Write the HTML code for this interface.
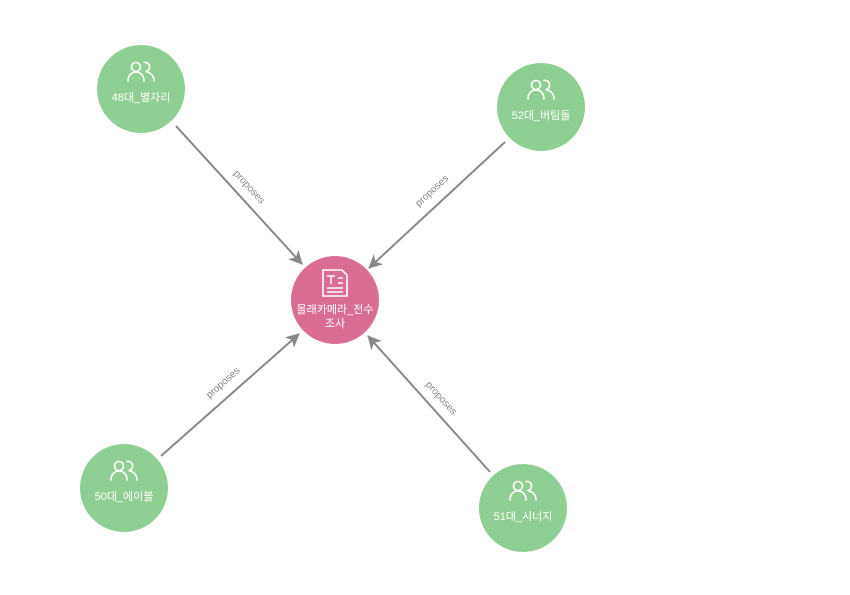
<!DOCTYPE html>
<html><head><meta charset="utf-8"><style>
html,body{margin:0;padding:0;background:#fff;}
svg{display:block;}
text{font-family:"Liberation Sans","Noto Sans CJK KR",sans-serif;}
</style></head><body>
<svg width="850" height="595" viewBox="0 0 850 595">
<defs>
<marker id="a" markerWidth="14" markerHeight="14" refX="13" refY="7" orient="auto" markerUnits="userSpaceOnUse" viewBox="0 0 14 14">
<path d="M0,0 L14,7 L0,14 L4,7 z" fill="#888"/>
</marker>
<g id="ppl" fill="none" stroke="#fff" stroke-width="1.6" stroke-linecap="round">
<circle cx="-5" cy="-5" r="4.5"/>
<path d="M-13,9 C-13,3 -9,0 -5,0 C-1,0 3,3 3,9"/>
<path d="M3,-9.5 A4.5,4.5 0 1 1 5,-0.5"/>
<path d="M6,0 C10,1 13,4 13,9"/>
</g>
</defs>
<g stroke="#888" stroke-width="2" marker-end="url(#a)">
<line x1="176" y1="126" x2="302" y2="264"/>
<line x1="505" y1="142" x2="369" y2="268"/>
<line x1="161" y1="456" x2="299" y2="334"/>
<line x1="490" y1="472" x2="368" y2="336"/>
</g>
<g fill="#888" font-size="10" text-anchor="middle">
<text transform="translate(247,189) rotate(47.6)">proposes</text>
<text transform="translate(434,193) rotate(-42.8)">proposes</text>
<text transform="translate(225,385) rotate(-41.6)">proposes</text>
<text transform="translate(439,400) rotate(48)">proposes</text>
</g>
<g fill="#8ecf93">
<circle cx="141" cy="89" r="44"/>
<circle cx="541" cy="107" r="44"/>
<circle cx="124" cy="488" r="44"/>
<circle cx="523" cy="508" r="44"/>
</g>
<circle cx="335" cy="300" r="44" fill="#d96d93"/>
<use href="#ppl" x="141" y="72"/>
<use href="#ppl" x="541" y="90"/>
<use href="#ppl" x="124" y="471"/>
<use href="#ppl" x="523" y="491"/>
<g fill="none" stroke="#fff" stroke-width="1.6">
<path d="M323,270 h19 l5,5 v21 h-24 z"/>
<path d="M327,276 h8 M331,276 v8 M338,278 h5 M338,283 h5 M327,288 h16 M327,292 h16" stroke-width="1.4"/>
</g>
<g fill="#fff" font-size="11" text-anchor="middle">
<text x="141" y="101">48대_별자리</text>
<text x="541" y="119">52대_버팀돌</text>
<text x="124" y="500">50대_에이블</text>
<text x="523" y="520">51대_시너지</text>
<text x="335" y="313">몰래카메라_전수</text>
<text x="335" y="327">조사</text>
</g>
</svg>
</body></html>
